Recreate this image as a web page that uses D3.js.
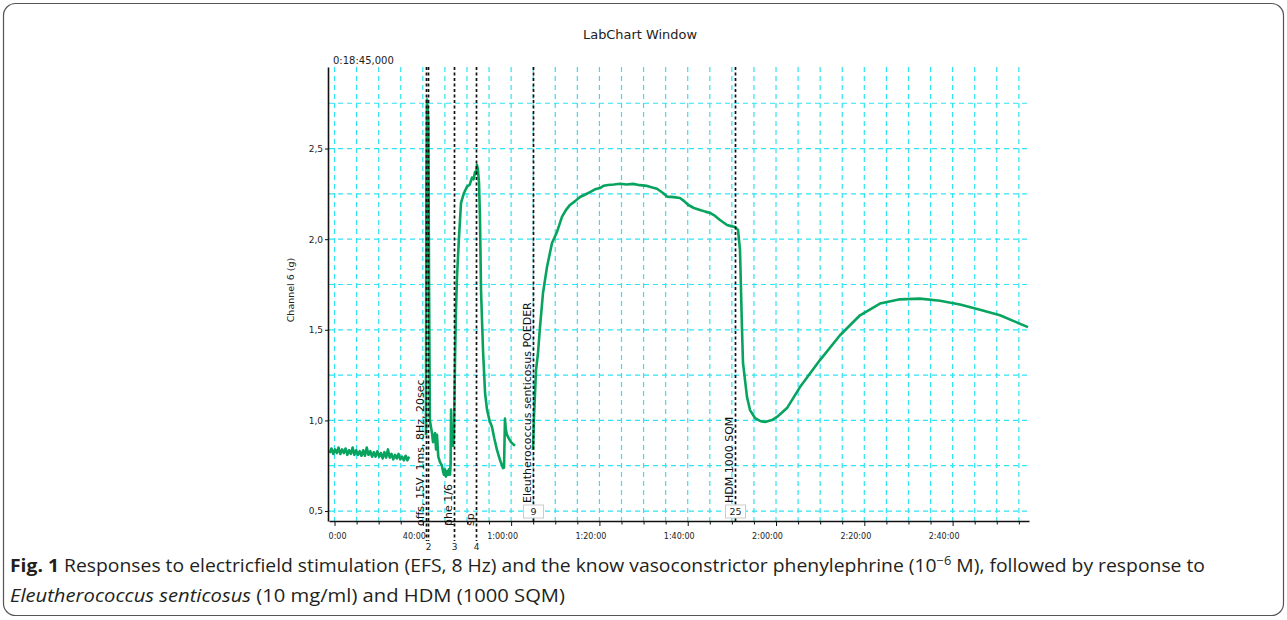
<!DOCTYPE html>
<html>
<head>
<meta charset="utf-8">
<script src="https://cdn.jsdelivr.net/npm/d3@7"></script>
<style>
  body { margin: 0; background: #fff; }
  svg { display: block; }
  .chart text { font-family: "DejaVu Sans", sans-serif; fill: #222; }
  .caption { font-family: "Open Sans", "Noto Sans", sans-serif; font-size: 18px; fill: #231f20; }
</style>
</head>
<body>
<svg id="fig" width="1287" height="620"></svg>
<script>
// x in minutes of recording, y in grams (Channel 6)
const xTickMinutes = [20, 40, 60, 80, 100, 120, 140, 160];
const xTickLabels = ["20:00", "40:00", "1:00:00", "1:20:00", "1:40:00", "2:00:00", "2:20:00", "2:40:00"];
const yTickValues = [0.5, 1.0, 1.5, 2.0, 2.5];
const yTickLabels = ["0,5", "1,0", "1,5", "2,0", "2,5"];

// comment markers
const markerMinutes = [40.75, 41.2, 47.06, 51.97, 65.02, 110.71];
const markerNumbers = ["", "2", "3", "4", "9", "25"];
const markerComments = ["offs, 15V, 1ms, 8Hz, 20sec", "", "phe 1/6", "sp", "Eleutherococcus senticosus POEDER", "HDM 1000 SQM"];

// trace pieces
const baselineTrace = [
  [18.9,0.82],[19.3,0.845],[19.7,0.815],[20.1,0.84],[20.5,0.82],[20.9,0.85],[21.3,0.815],[21.7,0.84],
  [22.1,0.82],[22.5,0.845],[22.9,0.81],[23.3,0.835],[23.7,0.815],[24.1,0.85],[24.5,0.81],[24.9,0.835],
  [25.3,0.81],[25.7,0.83],[26.1,0.805],[26.5,0.835],[26.9,0.805],[27.3,0.85],[27.7,0.81],[28.1,0.83],
  [28.5,0.8],[28.9,0.825],[29.3,0.8],[29.7,0.83],[30.1,0.8],[30.5,0.82],[30.9,0.79],[31.3,0.825],
  [31.7,0.795],[32.1,0.84],[32.5,0.795],[32.9,0.815],[33.3,0.785],[33.7,0.81],[34.1,0.79],[34.5,0.815],
  [34.9,0.785],[35.3,0.8],[35.7,0.78],[36.1,0.805],[36.5,0.78],[36.9,0.8]
];
const efsPheTrace = [
  [40.72,0.92],[40.8,2.3],[40.95,2.77],[41.25,2.65],[41.4,1.8],[41.6,1.0],[42.08,0.93],[42.31,0.88],
  [42.76,0.93],[43.0,0.84],[43.21,0.92],[43.5,0.80],[43.89,0.77],[44.34,0.75],[44.57,0.72],[44.8,0.70],
  [45.0,0.73],[45.25,0.69],[45.5,0.72],[45.7,0.70],[45.9,0.73],[46.16,0.70],[46.3,0.76],[46.4,1.06],
  [46.55,0.88],[46.84,0.86],[47.05,0.92],[47.29,1.33],[47.5,1.6],[47.74,1.79],[48.19,2.01],[48.65,2.20],
  [49.33,2.255],[50.01,2.29],[50.6,2.30],[51.14,2.34],[51.5,2.33],[51.82,2.37],[52.05,2.36],[52.27,2.41],
  [52.5,2.38],[52.73,2.31],[52.95,2.11],[53.18,1.72],[53.63,1.39],[54.1,1.15],[54.54,1.06],[55.1,1.0],
  [55.67,0.964],[56.2,0.90],[56.8,0.837],[57.5,0.78],[58.16,0.737],[58.4,0.74],[58.5,0.88],[58.61,1.01],
  [58.8,0.95],[59.07,0.92],[59.5,0.90],[59.97,0.88],[60.4,0.87],[60.88,0.86]
];
const eleutheroHdmTrace = [
  [64.96,0.837],[65.18,1.019],[65.64,1.278],[66.09,1.372],[66.54,1.515],[67.22,1.703],[68.13,1.847],
  [69.26,1.979],[70.39,2.04],[71.52,2.123],[72.4,2.16],[73.34,2.189],[74.5,2.21],[75.6,2.233],[76.7,2.245],
  [77.87,2.26],[79.0,2.275],[80.13,2.282],[81.0,2.295],[81.94,2.299],[83.3,2.302],[84.66,2.306],[86.1,2.302],
  [87.61,2.305],[89.2,2.298],[90.78,2.294],[92.0,2.285],[93.04,2.278],[94.4,2.255],[95.31,2.235],
  [96.8,2.232],[98.25,2.227],[99.2,2.21],[100.06,2.19],[101.4,2.172],[102.78,2.161],[104.0,2.152],
  [105.05,2.145],[106.2,2.128],[107.31,2.106],[108.9,2.078],[109.8,2.072],[110.71,2.067],[111.39,2.051],
  [111.84,1.94],[112.3,1.499],[112.52,1.317],[113.43,1.129],[114.11,1.057],[115.24,1.013],[116.38,0.997],
  [117.51,0.991],[119.09,1.002],[120.22,1.019],[122.49,1.068],[125.43,1.184],[129.96,1.333],[134.49,1.47],
  [139.02,1.58],[143.55,1.645],[148.08,1.668],[152.61,1.672],[157.14,1.66],[161.67,1.64],[166.2,1.61],
  [170.73,1.58],[174.13,1.545],[177.07,1.515]
];

const svg = d3.select("#fig");

// figure frame
svg.append("rect")
  .attr("x", 3.5).attr("y", 3.5)
  .attr("width", 1280).attr("height", 612)
  .attr("rx", 12)
  .attr("fill", "none")
  .attr("stroke", "#555")
  .attr("stroke-width", 1.2);

const plot = {left: 329, right: 1029, top: 67, bottom: 521};

const x = d3.scaleLinear().domain([18.75, 177.3]).range([plot.left, plot.right]);
const y = d3.scaleLinear().domain([0.445, 2.95]).range([plot.bottom, plot.top]);

const chart = svg.append("g").attr("class", "chart");

chart.append("text")
  .attr("x", 640).attr("y", 39)
  .attr("text-anchor", "middle")
  .attr("font-size", 12)
  .attr("textLength", 114)
  .attr("lengthAdjust", "spacingAndGlyphs")
  .text("LabChart Window");

chart.append("text")
  .attr("x", 333).attr("y", 64)
  .attr("font-size", 10)
  .text("0:18:45,000");

// grid
const gridColor = "#2ee4f2";
chart.append("g").selectAll("line")
  .data(d3.range(0.5, 2.76, 0.25))
  .join("line")
  .attr("x1", plot.left).attr("x2", plot.right)
  .attr("y1", d => y(d)).attr("y2", d => y(d))
  .attr("stroke", gridColor).attr("stroke-width", 1.2)
  .attr("stroke-dasharray", "5,4");

chart.append("g").selectAll("line")
  .data(d3.range(20, 176, 5))
  .join("line")
  .attr("x1", d => x(d)).attr("x2", d => x(d))
  .attr("y1", plot.top).attr("y2", plot.bottom)
  .attr("stroke", gridColor).attr("stroke-width", 1.2)
  .attr("stroke-dasharray", "5,4");

// trace
svg.append("clipPath").attr("id", "plotClip")
  .append("rect")
  .attr("x", plot.left).attr("y", plot.top)
  .attr("width", plot.right - plot.left).attr("height", plot.bottom - plot.top);

const line = d3.line().x(d => x(d[0])).y(d => y(d[1]));
chart.append("g").attr("clip-path", "url(#plotClip)")
  .selectAll("path")
  .data([baselineTrace, efsPheTrace, eleutheroHdmTrace])
  .join("path")
  .attr("d", line)
  .attr("fill", "none")
  .attr("stroke", "#08a35f")
  .attr("stroke-width", 2.6)
  .attr("stroke-linejoin", "round");

// markers
const markerG = chart.append("g");
markerMinutes.forEach(function(m, i) {
  const mx = Math.round(x(m)) + 0.5;
  const boxed = i >= 4;
  markerG.append("line")
    .attr("x1", mx).attr("x2", mx)
    .attr("y1", plot.top).attr("y2", boxed ? plot.bottom : plot.bottom + 20)
    .attr("stroke", "#111").attr("stroke-width", 1.7)
    .attr("stroke-dasharray", "3,2.5");
  if (markerComments[i]) {
    const yb = boxed ? 503 : 526;
    markerG.append("text")
      .attr("transform", "translate(" + (mx - 2.5) + "," + yb + ") rotate(-90)")
      .attr("font-size", 11)
      .style("fill", "#111")
      .text(markerComments[i]);
  }
  if (markerNumbers[i]) {
    if (boxed) {
      markerG.append("rect")
        .attr("x", mx - 10).attr("y", 505)
        .attr("width", 20).attr("height", 13)
        .attr("fill", "#fff")
        .attr("stroke", "#ccc");
      markerG.append("text")
        .attr("x", mx).attr("y", 515)
        .attr("text-anchor", "middle")
        .attr("font-size", 9.5)
        .text(markerNumbers[i]);
    } else {
      markerG.append("text")
        .attr("x", mx).attr("y", 550)
        .attr("text-anchor", "middle")
        .attr("font-size", 9)
        .text(markerNumbers[i]);
    }
  }
});

// axes
const xAxis = d3.axisBottom(x)
  .tickValues(d3.range(20, 176, 5))
  .tickSize(4)
  .tickSizeOuter(0)
  .tickFormat(d => {
    const k = xTickMinutes.indexOf(d);
    return k >= 0 ? xTickLabels[k] : "";
  });

const xAxisG = chart.append("g")
  .attr("transform", "translate(0," + plot.bottom + ")")
  .attr("clip-path", "url(#axisClip)")
  .call(xAxis);
// the first label is cut by the left edge of the plot, as in LabChart
svg.append("clipPath").attr("id", "axisClip")
  .append("rect").attr("x", 328.5).attr("y", -3).attr("width", 720).attr("height", 30);

xAxisG.select(".domain").attr("stroke", "#111").attr("stroke-width", 1.6);
xAxisG.selectAll(".tick line").attr("stroke", "#111")
  .attr("y2", d => xTickMinutes.indexOf(d) >= 0 ? 5 : 3.5);
xAxisG.selectAll(".tick text")
  .attr("font-family", "DejaVu Sans, sans-serif")
  .attr("font-size", 8)
  .attr("fill", "#222")
  .attr("y", 12).attr("dy", "0.71em")
  .attr("dx", d => d === 20 ? 0 : -9);

const yAxis = d3.axisLeft(y)
  .tickValues(yTickValues)
  .tickSize(3)
  .tickPadding(2)
  .tickSizeOuter(0)
  .tickFormat((d, i) => yTickLabels[i]);

const yAxisG = chart.append("g")
  .attr("transform", "translate(" + (plot.left - 1) + ",0)")
  .call(yAxis);
yAxisG.select(".domain").attr("stroke", "#111").attr("stroke-width", 1.6);
yAxisG.selectAll(".tick line").attr("stroke", "#111");
yAxisG.selectAll(".tick text")
  .attr("font-family", "DejaVu Sans, sans-serif")
  .attr("font-size", 9)
  .attr("fill", "#222");

chart.append("text")
  .attr("transform", "translate(294,290) rotate(-90)")
  .attr("text-anchor", "middle")
  .attr("font-size", 9.5)
  .text("Channel 6 (g)");

// caption
const cap1 = svg.append("text").attr("class", "caption")
  .attr("x", 10).attr("y", 572)
  .attr("textLength", 1195).attr("lengthAdjust", "spacingAndGlyphs");
cap1.append("tspan").attr("font-weight", "bold").text("Fig. 1");
cap1.append("tspan").text(" Responses to electricfield stimulation (EFS, 8 Hz) and the know vasoconstrictor phenylephrine (10");
cap1.append("tspan").attr("font-size", 12).attr("dy", -7).text("\u22126");
cap1.append("tspan").attr("dy", 7).text(" M), followed by response to");

const cap2 = svg.append("text").attr("class", "caption")
  .attr("x", 10).attr("y", 602)
  .attr("textLength", 555).attr("lengthAdjust", "spacingAndGlyphs");
cap2.append("tspan").attr("font-style", "italic").text("Eleutherococcus senticosus");
cap2.append("tspan").text(" (10 mg/ml) and HDM (1000 SQM)");
</script>
</body>
</html>
